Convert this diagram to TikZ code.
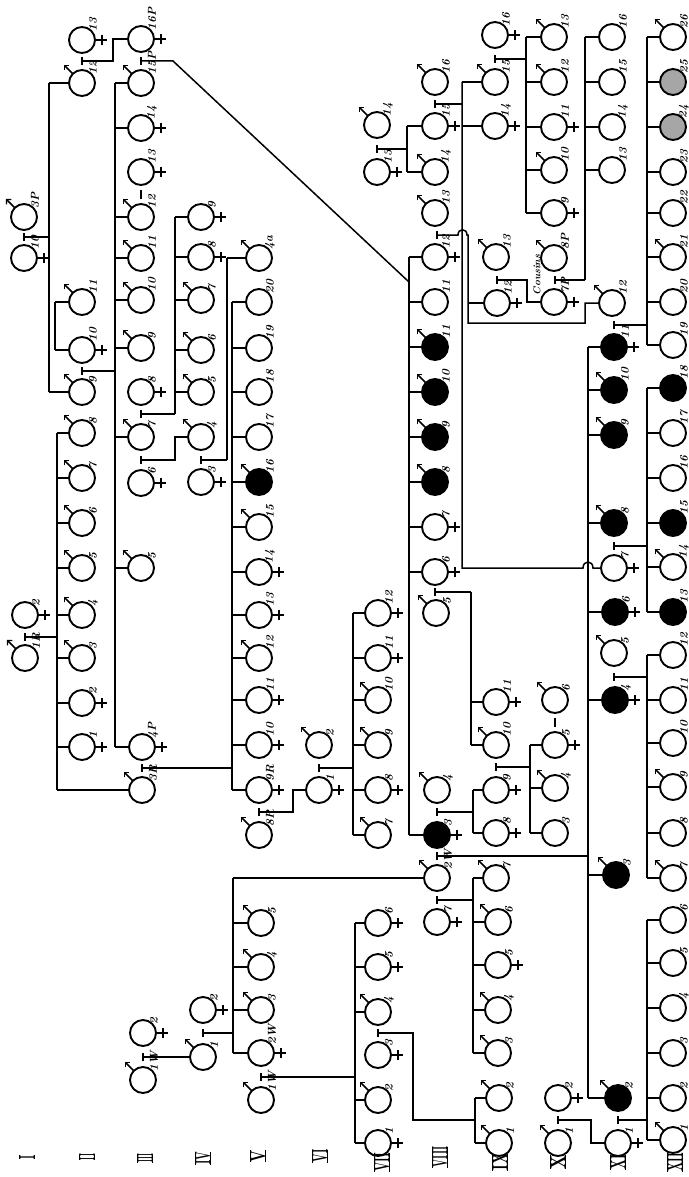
\documentclass[tikz,border=0pt]{standalone}
\usepackage{graphicx}
\usetikzlibrary{arrows.meta,calc}
\tikzset{
  pc/.style={circle,draw,line width=1.9pt,minimum size=26pt,inner sep=0pt,outer sep=0pt},
  ln/.style={line width=1.5pt},
  lab/.style={rotate=90,anchor=west,inner sep=0.5pt,font=\fontsize{11.5}{11.5}\selectfont\bfseries\itshape},
  marr/.style={line width=1.6pt,-{Straight Barb[length=3.5pt,width=7pt,line width=1.4pt]}},
}
\newcommand\pedM[5]{%
  \node[pc,fill=#5] (#1) at (#2,#3) {};
  \draw[marr] (#1.135) -- ++(-9,-9);
  \node[lab] (#1-l) at ({#2+11},{#3-8}) {#4};}
\newcommand\pedF[5]{%
  \node[pc,fill=#5] (#1) at (#2,#3) {};
  \draw[ln] (#1.east) -- ++(12,0);
  \draw[ln] ({#2+20},{#3-5}) -- ({#2+20},{#3+5});
  \node[lab] (#1-l) at ({#2+11},{#3-8}) {#4};}
\newcommand\pedU[5]{%
  \node[pc,fill=#5] (#1) at (#2,#3) {};
  \node[lab] (#1-l) at ({#2+11},{#3-8}) {#4};}
\newcommand\mar[3]{\coordinate (#1) at (#2,#3); \draw[ln] (#2,{#3-4}) -- (#2,{#3+4});}
\newcommand\stub[2]{\draw[ln] (#2.west) -- (#2.west -| #1);}
\newcommand\stubs[2]{\foreach \nn in {#2}{\stub{#1}{\nn}}}
\newcommand\vl[3]{\draw[ln] (#1 |- #2) -- (#1 |- #3);}
\newcommand\rnum[5]{%
  \node[rotate=90,inner sep=0pt,outer sep=0pt] (#1) at (#2,#3) {\resizebox{#5pt}{15pt}{\bfseries #4}};
  \draw[line width=1.5pt] (#1.north west) -- (#1.north east) (#1.south west) -- (#1.south east);}

\begin{document}
\begin{tikzpicture}[x=1pt,y=-1pt]
\fill[white] (0,0) rectangle (688,1177);
\useasboundingbox (0,0) rectangle (688,1177);
\clip (0,0) rectangle (688,1177);

% ---------- persons ----------
% column 1
\pedM{a3P}{24}{217}{3P}{white}
\pedF{a10}{24}{258}{10}{white}
\pedF{a2}{25}{615}{2}{white}
\pedM{a1R}{25}{658}{1R}{white}
% column 2
\pedF{b13}{82}{40}{13}{white}
\pedM{b12}{82}{83}{12}{white}
\pedM{b11}{82}{302}{11}{white}
\pedF{b10}{82}{350}{10}{white}
\pedM{b9}{82}{392}{9}{white}
\pedM{b8}{82}{433}{8}{white}
\pedM{b7}{82}{478}{7}{white}
\pedM{b6}{82}{523}{6}{white}
\pedM{b5}{82}{568}{5}{white}
\pedM{b4}{82}{615}{4}{white}
\pedM{b3}{82}{658}{3}{white}
\pedF{b2}{82}{703}{2}{white}
\pedF{b1}{82}{747}{1}{white}
% column 3
\pedF{c16P}{141}{39}{16P}{white}
\pedM{c15P}{141}{83}{15P}{white}
\pedF{c14}{141}{128}{14}{white}
\pedF{c13}{141}{172}{13}{white}
\pedM{c12}{141}{217}{12}{white}
\pedM{c11}{141}{258}{11}{white}
\pedM{c10}{141}{300}{10}{white}
\pedM{c9}{141}{348}{9}{white}
\pedF{c8}{141}{392}{8}{white}
\pedM{c7}{141}{437}{7}{white}
\pedF{c6}{141}{483}{6}{white}
\pedM{c5}{141}{568}{5}{white}
\pedF{c4P}{142}{747}{4P}{white}
\pedM{c3R}{142}{790}{3R}{white}
\pedF{c2}{143}{1033}{2}{white}
\pedM{c1W}{143}{1080}{1W}{white}
% column 4
\pedF{d9}{201}{217}{9}{white}
\pedF{d8}{201}{257}{8}{white}
\pedM{d7}{201}{300}{7}{white}
\pedM{d6}{201}{350}{6}{white}
\pedM{d5}{201}{392}{5}{white}
\pedM{d4}{201}{437}{4}{white}
\pedF{d3}{201}{482}{3}{white}
\pedF{d2}{203}{1010}{2}{white}
\pedM{d1}{203}{1057}{1}{white}
% column 5
\pedM{e4a}{259}{258}{4a}{white}
\pedU{e20}{259}{302}{20}{white}
\pedU{e19}{259}{348}{19}{white}
\pedU{e18}{259}{392}{18}{white}
\pedU{e17}{259}{437}{17}{white}
\pedM{e16}{259}{482}{16}{black}
\pedM{e15}{259}{527}{15}{white}
\pedF{e14}{259}{572}{14}{white}
\pedF{e13}{259}{615}{13}{white}
\pedM{e12}{259}{658}{12}{white}
\pedF{e11}{259}{700}{11}{white}
\pedF{e10}{259}{745}{10}{white}
\pedF{e9R}{259}{790}{9R}{white}
\pedM{e8R}{259}{835}{8R}{white}
\pedM{e5}{261}{923}{5}{white}
\pedM{e4}{261}{967}{4}{white}
\pedM{e3}{261}{1010}{3}{white}
\pedF{e2W}{261}{1053}{2W}{white}
\pedM{e1W}{261}{1100}{1W}{white}
% column 6
\pedM{f2}{319}{745}{2}{white}
\pedF{f1}{319}{790}{1}{white}
% column 7
\pedM{g14}{377}{125}{14}{white}
\pedF{g13}{377}{172}{13}{white}
\pedF{g12}{378}{613}{12}{white}
\pedF{g11}{378}{658}{11}{white}
\pedM{g10}{378}{700}{10}{white}
\pedM{g9}{378}{745}{9}{white}
\pedF{g8}{378}{790}{8}{white}
\pedM{g7}{378}{835}{7}{white}
\pedF{g6}{378}{923}{6}{white}
\pedF{g5}{378}{967}{5}{white}
\pedM{g4}{378}{1012}{4}{white}
\pedF{g3}{378}{1055}{3}{white}
\pedM{g2}{378}{1100}{2}{white}
\pedF{g1}{378}{1143}{1}{white}
% column 8
\pedM{h16}{435}{82}{16}{white}
\pedF{h15}{435}{126}{15}{white}
\pedM{h14}{435}{172}{14}{white}
\pedM{h13}{435}{213}{13}{white}
\pedF{h12}{435}{257}{12}{white}
\pedU{h11a}{435}{302}{11}{white}
\pedM{h11}{435}{347}{11}{black}
\pedM{h10}{435}{392}{10}{black}
\pedM{h9}{435}{437}{9}{black}
\pedM{h8}{435}{482}{8}{black}
\pedF{h7}{435}{527}{7}{white}
\pedF{h6}{435}{572}{6}{white}
\pedM{h5}{436}{613}{5}{white}
\pedM{h4}{437}{790}{4}{white}
\pedF{h3}{437}{835}{3}{black}
\pedM{h2W}{437}{878}{2W}{white}
\pedF{h7b}{437}{922}{7}{white}
% column 9
\pedF{i16}{495}{35}{16}{white}
\pedM{i15}{495}{82}{15}{white}
\pedF{i14}{495}{126}{14}{white}
\pedM{i13}{496}{257}{13}{white}
\pedF{i12}{497}{303}{12}{white}
\pedF{i11}{496}{702}{11}{white}
\pedM{i10}{496}{745}{10}{white}
\pedF{i9}{496}{790}{9}{white}
\pedF{i8}{496}{833}{8}{white}
\pedM{i7}{496}{878}{7}{white}
\pedM{i6}{498}{922}{6}{white}
\pedF{i5}{498}{965}{5}{white}
\pedM{i4}{498}{1010}{4}{white}
\pedM{i3}{498}{1053}{3}{white}
\pedM{i2}{499}{1098}{2}{white}
\pedM{i1}{499}{1143}{1}{white}
% column 10
\pedM{j13}{554}{37}{13}{white}
\pedM{j12}{554}{82}{12}{white}
\pedF{j11}{554}{127}{11}{white}
\pedM{j10}{554}{170}{10}{white}
\pedF{j9}{554}{213}{9}{white}
\pedM{j8P}{554}{258}{8P}{white}
\pedF{j7P}{554}{302}{7P}{white}
\pedM{j6}{555}{700}{6}{white}
\pedF{j5}{555}{745}{5}{white}
\pedM{j4}{555}{788}{4}{white}
\pedU{j3}{555}{833}{3}{white}
\pedF{j2}{558}{1098}{2}{white}
\pedM{j1}{558}{1143}{1}{white}
% column 11
\pedU{k16}{612}{37}{16}{white}
\pedU{k15}{612}{82}{15}{white}
\pedU{k14}{612}{127}{14}{white}
\pedU{k13}{612}{170}{13}{white}
\pedM{k12}{612}{303}{12}{white}
\pedF{k11}{614}{347}{11}{black}
\pedM{k10}{614}{390}{10}{black}
\pedM{k9}{614}{435}{9}{black}
\pedM{k8}{614}{523}{8}{black}
\pedF{k7}{614}{568}{7}{white}
\pedF{k6}{615}{612}{6}{black}
\pedM{k5}{614}{653}{5}{white}
\pedF{k4}{615}{700}{4}{black}
\pedM{k3}{616}{875}{3}{black}
\pedM{k2}{618}{1098}{2}{black}
\pedF{k1}{618}{1143}{1}{white}
% column 12
\pedM{l26}{673}{37}{26}{white}
\pedU{l25}{673}{82}{25}{gray!70}
\pedU{l24}{673}{127}{24}{gray!70}
\pedU{l23}{673}{172}{23}{white}
\pedU{l22}{673}{213}{22}{white}
\pedM{l21}{673}{257}{21}{white}
\pedU{l20}{673}{302}{20}{white}
\pedU{l19}{673}{345}{19}{white}
\pedU{l18}{673}{388}{18}{black}
\pedU{l17}{673}{433}{17}{white}
\pedU{l16}{673}{478}{16}{white}
\pedU{l15}{673}{523}{15}{black}
\pedM{l14}{673}{567}{14}{white}
\pedU{l13}{673}{612}{13}{black}
\pedU{l12}{673}{655}{12}{white}
\pedU{l11}{673}{700}{11}{white}
\pedU{l10}{673}{743}{10}{white}
\pedM{l9}{673}{787}{9}{white}
\pedU{l8}{673}{833}{8}{white}
\pedM{l7}{673}{878}{7}{white}
\pedU{l6}{673}{920}{6}{white}
\pedU{l5}{673}{963}{5}{white}
\pedU{l4}{673}{1008}{4}{white}
\pedU{l3}{673}{1053}{3}{white}
\pedU{l2}{673}{1098}{2}{white}
\pedM{l1}{673}{1140}{1}{white}

\node[rotate=90,inner sep=0pt,font=\fontsize{10}{10}\selectfont\bfseries\itshape] (cous) at (537,275) {Cousins};

% ---------- line positions ----------
\coordinate (X1) at (49,0);
\coordinate (X1b) at (55,0);
\coordinate (X2) at (57,0);
\coordinate (X3) at (115,0);
\coordinate (X4) at (175,0);
\coordinate (X5a) at (227,0);
\coordinate (X5) at (232,0);
\coordinate (X5b) at (233,0);
\coordinate (X7) at (353,0);
\coordinate (X7b) at (355,0);
\coordinate (X8a) at (407,0);
\coordinate (X8) at (409,0);
\coordinate (X9a) at (462,0);
\coordinate (X9b) at (468,0);
\coordinate (X9c) at (471,0);
\coordinate (X9d) at (473,0);
\coordinate (X9f) at (475,0);
\coordinate (X10a) at (526,0);
\coordinate (X10b) at (530,0);
\coordinate (X11a) at (585,0);
\coordinate (X11b) at (588,0);
\coordinate (X12) at (647,0);

% ---------- marriages ----------
\mar{m1}{82}{61}
\mar{m2}{141}{61}
\mar{m3}{24}{237}
\mar{m4}{82}{371}
\mar{m5}{141}{414}
\mar{m6}{141}{460}
\mar{m7}{201}{460}
\mar{m8}{25}{637}
\mar{m9}{142}{768}
\mar{m10}{259}{812}
\mar{m11}{319}{768}
\mar{m12}{203}{1033}
\mar{m13}{143}{1057}
\mar{m14}{261}{1077}
\mar{m15}{378}{1033}
\mar{m16}{377}{149}
\mar{m17}{435}{104}
\mar{m18}{437}{235}
\mar{m19}{495}{59}
\mar{m20}{497}{280}
\mar{m21}{555}{280}
\mar{m22}{614}{325}
\mar{m23}{435}{592}
\mar{m24}{437}{812}
\mar{m25}{496}{767}
\mar{m26}{437}{856}
\mar{m27}{437}{900}
\mar{m28}{614}{546}
\mar{m29}{614}{677}
\mar{m30}{618}{1120}
\mar{m31}{558}{1120}

% ---------- descent lines ----------
\draw[ln] (m3) -- (m3 -| X1);
\vl{X1}{b12.west}{b9.west}
\stubs{X1}{b12,b9}
\vl{X1b}{b11.west}{b10.west}
\stubs{X1b}{b11,b10}

\draw[ln] (m1) -- (113,61) -- (113,39) -- (c16P.west);
\draw[ln] (m2) -- (173,61) -- (409,282);

\draw[ln] (m4) -- (m4 -| X3);
\vl{X3}{c15P.west}{c4P.west}
\stubs{X3}{c15P,c14,c12,c11,c10,c9,c7,c5,c4P}
\draw[ln] (141,190) -- (141,199);

\draw[ln] (m5) -- (m5 -| X4);
\vl{X4}{d9.west}{m5}
\stubs{X4}{d9,d8,d7,d6,d5}
\draw[ln] (m6) -- (m6 -| X4) -- (X4 |- d4.west) -- (d4.west);

\draw[ln] (m7) -- (m7 -| X5a);
\vl{X5a}{e4a.west}{m7}
\stub{X5a}{e4a}

\draw[ln] (m9) -- (m9 -| X5);
\vl{X5}{e20.west}{e9R.west}
\stubs{X5}{e20,e19,e18,e17,e16,e15,e14,e13,e12,e11,e10,e9R}

\draw[ln] (m8) -- (m8 -| X2);
\vl{X2}{b8.west}{c3R.west}
\stubs{X2}{b8,b7,b6,b5,b4,b3,b2,b1,c3R}

\draw[ln] (m10) -- (293,812) -- (293,790) -- (f1.west);
\draw[ln] (m11) -- (m11 -| X7);
\vl{X7}{g12.west}{g7.west}
\stubs{X7}{g12,g11,g10,g9,g8,g7}

\draw[ln] (m12) -- (m12 -| X5b);
\vl{X5b}{h2W.west}{e2W.west}
\stubs{X5b}{h2W,e5,e4,e3,e2W}
\draw[ln] (m13) -- (d1.west);

\draw[ln] (m14) -- (m14 -| X7b);
\vl{X7b}{g6.west}{g1.west}
\stubs{X7b}{g6,g5,g4,g2,g1}

\draw[ln] (m15) -- (413,1033) -- (413,1120) -- (475,1120);
\vl{X9f}{i2.west}{i1.west}
\stubs{X9f}{i2,i1}

\draw[ln] (m16) -- (m16 -| X8a);
\vl{X8a}{h15.west}{h14.west}
\stubs{X8a}{h15,h14}

\vl{X8}{h12.west}{h3.west}
\stubs{X8}{h12,h11a,h11,h10,h9,h8,h7,h6,h3}

\draw[ln] (m17) -- (m17 -| X9a);
\draw[ln] (X9a |- i15.west) -- (462,568) -- (583,568) .. controls (583,560) and (593,560) .. (593,568) -- (k7.west);
\stubs{X9a}{i15,i14}

\draw[ln] (m18) -- (458,235) .. controls (458,228) and (467,228) .. (467,235) -- (468,235) -- (468,323) -- (585,323) -- (585,303) -- (k12.west);
\stub{X9b}{i12}

\draw[ln] (m19) -- (m19 -| X10a);
\vl{X10a}{j13.west}{j9.west}
\stubs{X10a}{j13,j12,j11,j10,j9}
\draw[ln] (m20) -- (527,280) -- (527,302) -- (j7P.west);

\draw[ln] (m21) -- (m21 -| X11a);
\vl{X11a}{k16.west}{m21}
\stubs{X11a}{k16,k15,k14,k13}

\draw[ln] (m22) -- (m22 -| X12);
\vl{X12}{l26.west}{l19.west}
\stubs{X12}{l26,l25,l24,l23,l22,l21,l20,l19}

\draw[ln] (m23) -- (m23 -| X9c);
\vl{X9c}{m23}{i10.west}
\stubs{X9c}{i11,i10}

\draw[ln] (m24) -- (m24 -| X9d);
\vl{X9d}{i9.west}{i8.west}
\stubs{X9d}{i9,i8}

\draw[ln] (m25) -- (m25 -| X10b);
\vl{X10b}{j5.west}{j3.west}
\stubs{X10b}{j5,j4,j3}
\draw[ln] (555,718) -- (555,727);

\draw[ln] (m26) -- (m26 -| X11b);
\vl{X11b}{k11.west}{k2.west}
\stubs{X11b}{k11,k10,k9,k8,k6,k4,k3,k2}

\draw[ln] (m27) -- (m27 -| X9d);
\vl{X9d}{i7.west}{i3.west}
\stubs{X9d}{i7,i6,i5,i4,i3}

\draw[ln] (m28) -- (m28 -| X12);
\vl{X12}{l18.west}{l13.west}
\stubs{X12}{l18,l17,l16,l15,l14,l13}

\draw[ln] (m29) -- (m29 -| X12);
\vl{X12}{l12.west}{l7.west}
\stubs{X12}{l12,l11,l10,l9,l8,l7}

\draw[ln] (m30) -- (m30 -| X12);
\vl{X12}{l6.west}{l1.west}
\stubs{X12}{l6,l5,l4,l3,l2,l1}

\draw[ln] (m31) -- (591,1120) -- (591,1143) -- (k1.west);

% ---------- generation numerals ----------
\rnum{r1}{27}{1157}{I}{4}
\rnum{r2}{87}{1157}{II}{6}
\rnum{r3}{145}{1158}{III}{9}
\rnum{r4}{203}{1158}{IV}{13}
\rnum{r5}{258}{1156}{V}{12}
\rnum{r6}{320}{1156}{VI}{13}
\rnum{r7}{382}{1162}{VII}{19}
\rnum{r8}{440}{1157}{VIII}{21}
\rnum{r9}{500}{1162}{IX}{17}
\rnum{r10}{558}{1162}{X}{14}
\rnum{r11}{618}{1162}{XI}{15}
\rnum{r12}{675}{1162}{XII}{19}
\end{tikzpicture}
\end{document}
